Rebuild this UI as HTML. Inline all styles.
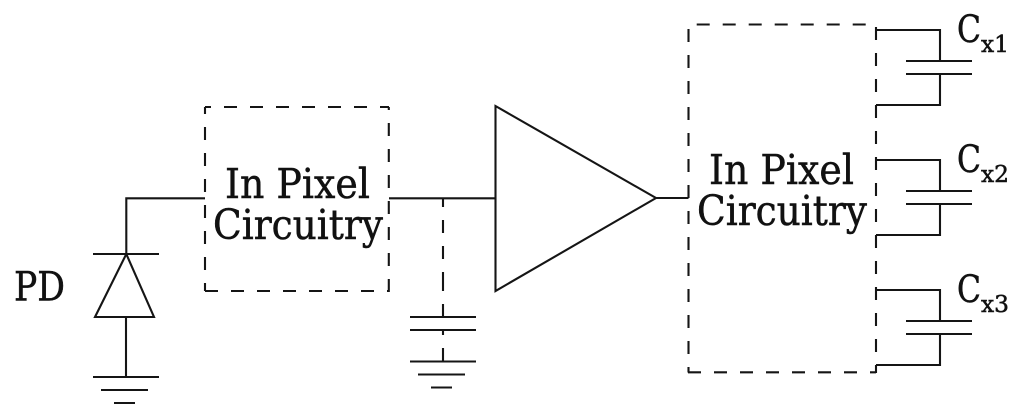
<!DOCTYPE html>
<html><head><meta charset="utf-8">
<style>
html,body{margin:0;padding:0;background:#fff;width:1024px;height:419px;overflow:hidden}
svg{display:block}
text{font-family:"DejaVu Serif","Liberation Serif",serif;fill:#111;stroke:#111;stroke-width:.5}
.l{stroke:#151515;stroke-width:2.1;fill:none}
.d{stroke:#151515;stroke-width:2.1;fill:none;stroke-dasharray:13 13}
</style></head>
<body>
<svg width="1024" height="419" viewBox="0 0 1024 419" xmlns="http://www.w3.org/2000/svg">
<!-- left box -->
<line class="d" x1="205" y1="107" x2="389" y2="107" stroke-dashoffset="7"/>
<line class="d" x1="205" y1="107" x2="205" y2="291" stroke-dashoffset="6"/>
<line class="d" x1="205" y1="291" x2="389" y2="291"/>
<line class="d" x1="388.800" y1="107" x2="388.800" y2="292" stroke-dashoffset="10"/>
<!-- photodiode -->
<path class="l" d="M205 198.300H126.300V254"/>
<path class="l" d="M93 254H159"/>
<path class="l" d="M126.300 254L95 317H154Z"/>
<path class="l" d="M126 317V377"/>
<path class="l" d="M93 377H159M101 390H148M114 403H135"/>
<!-- mid wire -->
<path class="l" d="M389 198.300H495.500"/>
<path class="l" d="M443 198V207M443 220V233M443 246V259M443 272V291M443 304V317M443 330V335M443 348V361"/>
<path class="l" d="M410 317H476M410 330H476M410 361.500H476M418 374.500H465M431 387.500H452"/>
<!-- amp -->
<path class="l" d="M495.500 106L656 198L495.500 291Z"/>
<path class="l" d="M656 198H688.500"/>
<!-- right box -->
<line class="d" x1="688.500" y1="24.500" x2="876" y2="24.500" stroke-dashoffset="17.800"/>
<line class="d" x1="688.500" y1="24.500" x2="688.500" y2="372.500" stroke-dashoffset="21.500"/>
<line class="d" x1="688" y1="372.300" x2="876" y2="372.300"/>
<line class="d" x1="876" y1="24.500" x2="876" y2="373" stroke-dashoffset="23.500"/>
<!-- caps -->
<path class="l" d="M876 30H940V61M906 61H972M906 74H972M940 74V105H876"/>
<path class="l" d="M876 160H940V191M906 191H972M906 204H972M940 204V235H876"/>
<path class="l" d="M876 290H940V321M906 321H972M906 334H972M940 334V365H876"/>
<!-- text -->
<text x="14" y="300.500" font-size="40" textLength="51" lengthAdjust="spacingAndGlyphs">PD</text>
<text x="225" y="198" font-size="41" textLength="145" lengthAdjust="spacingAndGlyphs">In Pixel</text>
<text x="213" y="239" font-size="41" textLength="170" lengthAdjust="spacingAndGlyphs">Circuitry</text>
<text x="709" y="184" font-size="41" textLength="145" lengthAdjust="spacingAndGlyphs">In Pixel</text>
<text x="697" y="225" font-size="41" textLength="170" lengthAdjust="spacingAndGlyphs">Circuitry</text>
<text x="957" y="42" font-size="37" textLength="24" lengthAdjust="spacingAndGlyphs">C</text>
<text x="981" y="52" font-size="23" textLength="28" lengthAdjust="spacingAndGlyphs">x1</text>
<text x="957" y="172" font-size="37" textLength="24" lengthAdjust="spacingAndGlyphs">C</text>
<text x="981" y="182" font-size="23" textLength="28" lengthAdjust="spacingAndGlyphs">x2</text>
<text x="957" y="302" font-size="37" textLength="24" lengthAdjust="spacingAndGlyphs">C</text>
<text x="981" y="312" font-size="23" textLength="28" lengthAdjust="spacingAndGlyphs">x3</text>
</svg>
</body></html>
